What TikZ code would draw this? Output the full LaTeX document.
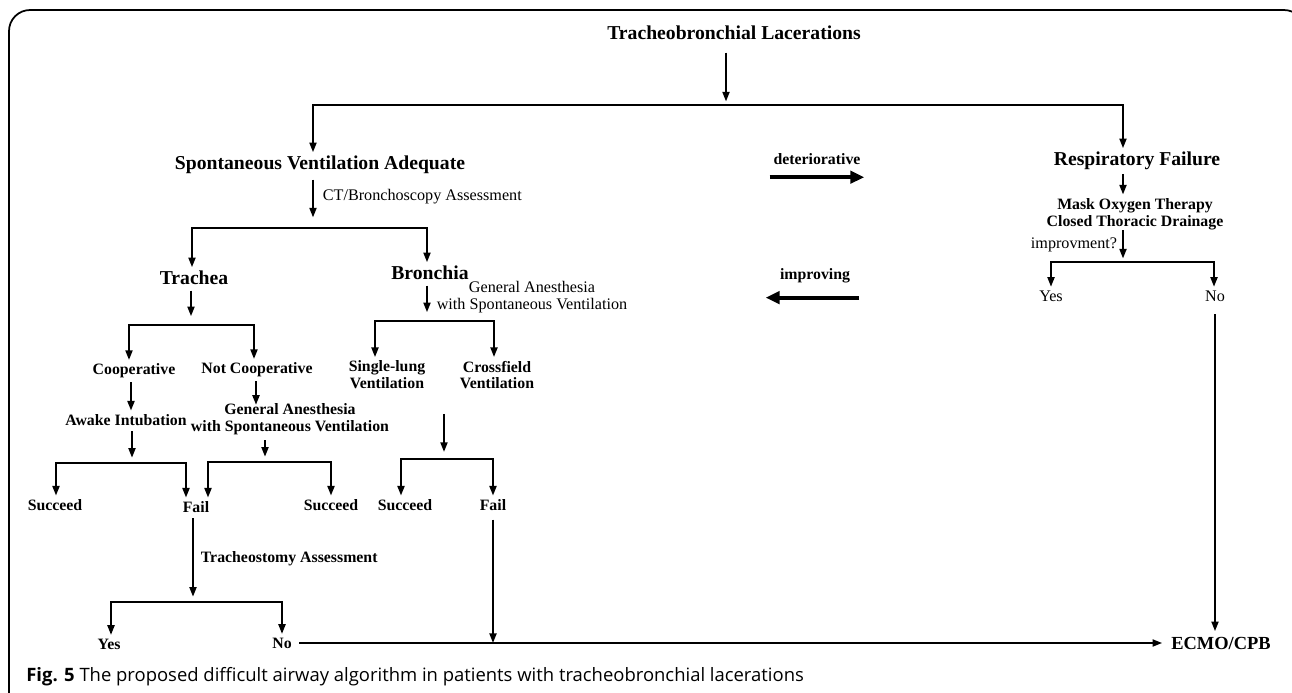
\documentclass[tikz,border=0pt]{standalone}
\usepackage{fontspec}
\setmainfont{Liberation Serif}
\newfontfamily\capfont{Open Sans}
\usepackage{tikz}
\usetikzlibrary{arrows.meta, positioning, calc}

\begin{document}
\begin{tikzpicture}[
  x=0.02cm, y=-0.02cm,
  big/.style={font=\fontsize{11.2}{12}\selectfont\bfseries, inner sep=2pt},
  lbl/.style={font=\fontsize{9}{9.6}\selectfont\bfseries, align=center, inner sep=2pt},
  plain/.style={font=\fontsize{9.2}{10}\selectfont, align=center, inner sep=2pt},
  arr/.style={line width=1.1pt, -{Triangle[length=5.5pt,width=4pt]}},
  fork/.style={line width=1.1pt, {Triangle[length=5.5pt,width=4pt]}-{Triangle[length=5.5pt,width=4pt]}},
  stem/.style={arr, shorten <=1pt, shorten >=4pt},
  bigarr/.style={line width=2.3pt, -{Triangle[length=8pt,width=7pt]}}
]
  \useasboundingbox (0,0) rectangle (1292,693);
  \clip (0,0) rectangle (1292,693);
  \draw[line width=1pt, rounded corners=12pt] (9,740) -- (9,10) -- (1305,10) -- (1305,740);

  % top level
  \node[big] (title) at (734,33) {Tracheobronchial Lacerations};
  \node[big] (sva) at (320,165) {Spontaneous Ventilation Adequate};
  \node[big] (rf) at (1137,161) {Respiratory Failure};
  \coordinate (b1l) at (313,105);
  \coordinate (b1m) at (726,105);
  \coordinate (b1r) at (1123,105);
  \draw[arr, shorten <=5pt, shorten >=2pt] (title.south -| b1m) -- (b1m);
  \draw[fork] (b1l |- sva.north) -- (b1l) -- (b1r) -- (b1r |- rf.north);

  % deteriorative / improving
  \node[lbl] (det) at (817,159) {deteriorative};
  \draw[bigarr] ([yshift=-5pt]det.south west) -- ([yshift=-5pt]det.south east);
  \node[lbl] (impr) at (815,276) {improving};
  \draw[bigarr] ([xshift=3pt,yshift=-6pt]impr.south east) -- ([xshift=-6pt,yshift=-6pt]impr.south west);

  % respiratory failure branch
  \node[lbl] (mask) at (1135,214) {Mask Oxygen Therapy\\Closed Thoracic Drainage};
  \coordinate (b9l) at (1051,262);
  \coordinate (b9m) at (1123,262);
  \coordinate (b9r) at (1214,262);
  \node[plain] (rfyes) at (1051,296) {Yes};
  \node[plain] (rfno) at (1215,296) {No};
  \node[plain, anchor=east] (impq) at (1121,245) {improvment?};
  \draw[arr, shorten >=0pt] (rf.south -| b9m) -- (mask.north -| b9m);
  \draw[arr, shorten <=-2pt, shorten >=2pt] (mask.south -| b9m) -- (b9m);
  \draw[fork] (b9l |- rfyes.north) -- (b9l) -- (b9r) -- (b9r |- rfno.north);

  % spontaneous ventilation branch
  \node[plain, anchor=west] (ct) at (319,197) {CT/Bronchoscopy Assessment};
  \node[big] (trachea) at (194,278) {Trachea};
  \node[big] (bronchia) at (430,273) {Bronchia};
  \coordinate (b2l) at (192,228);
  \coordinate (b2m) at (313,228);
  \coordinate (b2r) at (427,228);
  \draw[stem, shorten >=6pt] (sva.south -| b2m) -- (b2m);
  \draw[fork] (b2l |- trachea.north) -- (b2l) -- (b2r) -- (b2r |- bronchia.north);

  % trachea
  \node[lbl] (coop) at (134,371) {Cooperative};
  \node[lbl] (notcoop) at (257,370) {Not Cooperative};
  \coordinate (b3l) at (129,325);
  \coordinate (b3m) at (191,325);
  \coordinate (b3r) at (254,325);
  \draw[stem, shorten >=5pt] (trachea.south -| b3m) -- (b3m);
  \draw[fork] (b3l |- coop.north) -- (b3l) -- (b3r) -- (b3r |- notcoop.north);

  \node[lbl] (awake) at (126,420) {Awake Intubation};
  \node[lbl] (ga2) at (290,419) {General Anesthesia\\with Spontaneous Ventilation};
  \draw[arr] (coop.south -| 131,0) -- (awake.north -| 131,0);
  \draw[arr, shorten >=-3pt] (notcoop.south -| 256,0) -- (ga2.north -| 256,0);

  \coordinate (b5l) at (56,463);
  \coordinate (b5m) at (132,463);
  \coordinate (b5r) at (186,463);
  \coordinate (b6l) at (208,462);
  \coordinate (b6m) at (265,462);
  \coordinate (b6r) at (331,462);
  \node[lbl] (succ1) at (55,505) {Succeed};
  \node[lbl] (fail1) at (196,507) {Fail};
  \node[lbl] (succ2) at (331,505) {Succeed};
  \draw[stem, shorten >=3pt] (awake.south -| b5m) -- (b5m);
  \draw[stem, shorten >=3pt] (ga2.south -| b6m) -- (b6m);
  \draw[fork] (b5l |- succ1.north) -- (b5l) -- (b5r) -- (b5r |- fail1.north);
  \draw[fork] (b6l |- fail1.north) -- (b6l) -- (b6r) -- (b6r |- succ2.north);

  % tracheostomy
  \node[lbl, anchor=west] (tra) at (197,559) {Tracheostomy Assessment};
  \coordinate (b8l) at (111,602);
  \coordinate (b8m) at (193,602);
  \coordinate (b8r) at (282,602);
  \node[lbl] (yes) at (109,644) {Yes};
  \node[lbl] (no) at (282,643) {No};
  \draw[stem, shorten >=3pt] (fail1.south -| b8m) -- (b8m);
  \draw[fork] (b8l |- yes.north) -- (b8l) -- (b8r) -- (b8r |- no.north);

  % bronchia
  \node[plain] (ga1) at (532,297) {General Anesthesia\\with Spontaneous Ventilation};
  \node[lbl] (single) at (387,375) {Single-lung\\Ventilation};
  \node[lbl] (cross) at (497,375) {Crossfield\\Ventilation};
  \coordinate (b4l) at (375,321);
  \coordinate (b4m) at (427,321);
  \coordinate (b4r) at (494,321);
  \draw[stem, shorten >=5pt] (bronchia.south -| b4m) -- (b4m);
  \draw[fork] (b4l |- single.north) -- (b4l) -- (b4r) -- (b4r |- cross.north);

  \coordinate (b7l) at (401,459);
  \coordinate (b7m) at (444,459);
  \coordinate (b7r) at (493,459);
  \node[lbl] (succ3) at (405,505) {Succeed};
  \node[lbl] (fail2) at (493,505) {Fail};
  \draw[stem, shorten <=12pt] (single.south -| b7m) -- (b7m);
  \draw[fork] (b7l |- succ3.north) -- (b7l) -- (b7r) -- (b7r |- fail2.north);

  % ECMO
  \node[big, font=\fontsize{10.5}{12}\selectfont\bfseries] (ecmo) at (1221,643) {ECMO/CPB};
  \draw[arr, shorten <=2pt, shorten >=3pt] (no.east) -- (ecmo.west |- no.east);
  \draw[arr, shorten <=3pt] (fail2.south) -- (fail2.south |- no.east);
  \draw[arr, shorten <=5pt, shorten >=1pt] (rfno.south) -- (ecmo.north -| rfno);

  % caption
  \node[anchor=west, inner sep=0pt, font=\capfont\fontsize{10.5}{12}\selectfont] (cap) at (26,677)
    {\textbf{Fig. 5} The proposed difficult airway algorithm in patients with tracheobronchial lacerations};
\end{tikzpicture}
\end{document}
